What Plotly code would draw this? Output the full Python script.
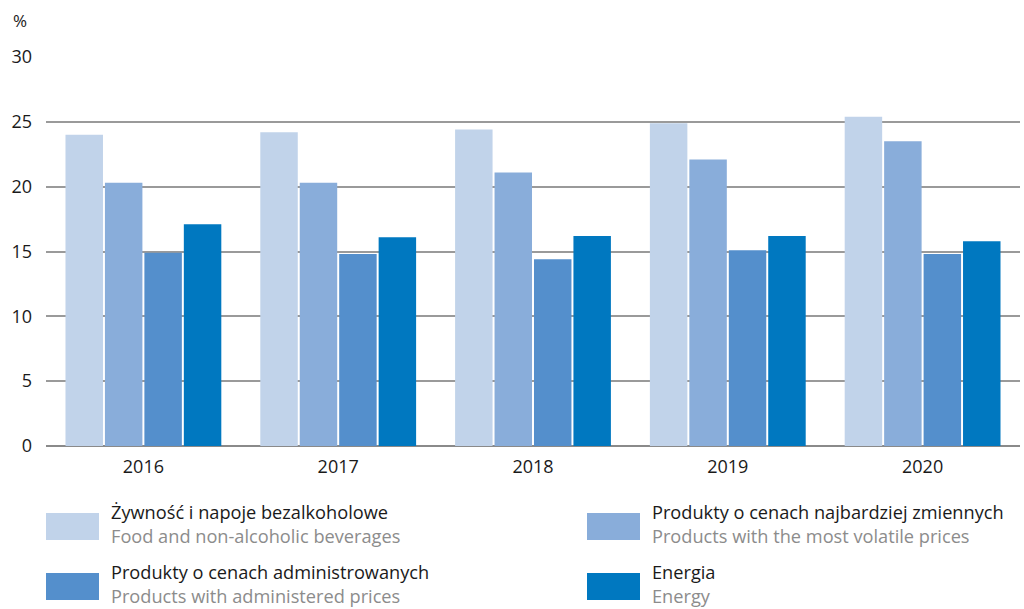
import plotly.graph_objects as go

YEARS = ["2016", "2017", "2018", "2019", "2020"]
FOOD = [24.0, 24.2, 24.4, 24.9, 25.4]
VOLATILE = [20.3, 20.3, 21.1, 22.1, 23.5]
ADMIN = [14.9, 14.8, 14.4, 15.1, 14.8]
ENERGY = [17.1, 16.1, 16.2, 16.2, 15.8]
Y_TICKS = [0, 5, 10, 15, 20, 25, 30]

SERIES = [
    ("Żywność i napoje bezalkoholowe", "Food and non-alcoholic beverages", FOOD, "#C1D3EA"),
    ("Produkty o cenach najbardziej zmiennych", "Products with the most volatile prices", VOLATILE, "#89ADDA"),
    ("Produkty o cenach administrowanych", "Products with administered prices", ADMIN, "#548FCC"),
    ("Energia", "Energy", ENERGY, "#0078C0"),
]

FONT = "Open Sans"
W, H = 1024, 609
L, R, T, B = 46, 4, 57, 163

fig = go.Figure()
for pl_name, en_name, vals, color in SERIES:
    fig.add_bar(x=YEARS, y=vals, name=pl_name, marker_color=color,
                marker_line_width=0, showlegend=False)

fig.update_layout(
    width=W, height=H,
    margin=dict(l=L, r=R, t=T, b=B),
    plot_bgcolor="white", paper_bgcolor="white",
    barmode="group", bargap=0.19, bargroupgap=0.05,
    font=dict(family=FONT, size=18, color="#1a1a1a"),
)
fig.update_yaxes(range=[0, 30], tickvals=Y_TICKS, showgrid=True, gridcolor="#9a9a9a",
                 gridwidth=2, zeroline=True, zerolinecolor="#8a8a8a", zerolinewidth=2,
                 ticks="", ticklabelstandoff=13, showline=False)
fig.update_xaxes(showgrid=False, ticks="", showline=False, ticklabelstandoff=8)

pw, ph = W - L - R, H - T - B
def px_x(x):
    return (x - L) / pw
def px_y(y):
    return (H - B - y) / ph

fig.add_annotation(text="%", xref="paper", yref="paper", x=px_x(11), y=px_y(20),
                   xanchor="left", yanchor="middle", showarrow=False, font=dict(size=17))

# custom two-line legend below the plot
legend_pos = [(46, 513), (587, 513), (46, 573), (587, 573)]
for (pl_name, en_name, vals, color), (x0, y0) in zip(SERIES, legend_pos):
    fig.add_shape(type="rect", xref="paper", yref="paper",
                  x0=px_x(x0), x1=px_x(x0 + 53), y0=px_y(y0), y1=px_y(y0 + 27),
                  fillcolor=color, line_width=0)
    fig.add_annotation(text=f"{pl_name}<br><span style='color:#8c8c8c'>{en_name}</span>",
                       xref="paper", yref="paper", x=px_x(x0 + 63), y=px_y(y0 + 11),
                       xanchor="left", yanchor="middle", align="left", showarrow=False,
                       font=dict(size=18.2, color="#1a1a1a"))

fig.write_html("out.html", config={"displayModeBar": False},
               post_script="document.body.style.margin='0';")
